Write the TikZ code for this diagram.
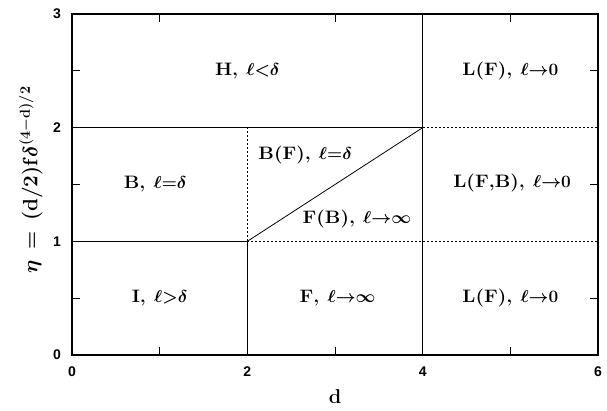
\documentclass[tikz,border=0pt]{standalone}
\usepackage{fontspec}
\newfontfamily\axisfont{Liberation Sans}
\newfontfamily\regfont{Latin Modern Roman}[FakeStretch=1.08]
\begin{document}
\begin{tikzpicture}[x=87.67pt,y=113.67pt,
  frame/.style={line width=1.1pt},
  bound/.style={line width=0.8pt},
  dotline/.style={line width=0.7pt, dash pattern=on 2pt off 2pt},
  tickmark/.style={line width=0.8pt},
  region/.style={font=\fontsize{18}{20}\selectfont\regfont\bfseries\boldmath, inner sep=0pt},
  num/.style={font=\axisfont\bfseries\fontsize{14}{16}\selectfont, inner sep=0pt}]
\newcommand{\gap}{\hspace{0.45em}}
\useasboundingbox (-72pt,-56pt) rectangle (535pt,355pt);
% grid points
\foreach \i in {0,...,6}{\foreach \j in {0,1,2,3}{\coordinate (p\i\j) at (\i,\j);}}
% frame
\draw[frame] (p00) rectangle (p63);
% solid boundaries
\draw[bound] (p02) -- (p42);
\draw[bound] (p01) -- (p21);
\draw[bound] (p20) -- (p21);
\draw[bound] (p40) -- (p43);
\draw[bound] (p21) -- (p42);
% dotted boundaries
\draw[dotline] (p21) -- (p22);
\draw[dotline] (p42) -- (p62);
\draw[dotline] (p21) -- (p61);
% minor ticks
\foreach \x in {1,3,5}{
  \coordinate (tb\x) at (\x,0); \coordinate (tt\x) at (\x,3);
  \draw[tickmark] (tb\x) -- ++(0,8pt);
  \draw[tickmark] (tt\x) -- ++(0,-8pt);}
\foreach \y in {0.5,1.5,2.5}{
  \coordinate (tl) at (0,\y); \coordinate (tr) at (6,\y);
  \draw[tickmark] (tl) -- ++(8pt,0);
  \draw[tickmark] (tr) -- ++(-8pt,0);}
% tick labels
\foreach \y in {0,1,2,3}{\node[num] (ny\y) at ([xshift=-15pt]p0\y) {\y};}
\foreach \x in {0,2,4,6}{\node[num] (nx\x) at ([yshift=-17pt]p\x0) {\x};}
% axis labels
\node[font=\fontsize{22}{24}\selectfont\boldmath, rotate=90] (ylab) at (-0.47,1.54)
  {$\eta\,=\,(\mathbf{d}/\mathbf{2})\mathbf{f}\delta^{(\mathbf{4}-\mathbf{d})/\mathbf{2}}$};
\node[font=\fontsize{20}{22}\selectfont\bfseries] (xlab) at (3,-0.37) {d};
% region labels
\node[region] (H) at (2,2.5) {H,\gap$\ell{<}\delta$};
\node[region] (LF1) at (5,2.5) {L(F),\gap$\ell{\to}0$};
\node[region] (B) at (0.95,1.5) {B,\gap$\ell{=}\delta$};
\node[region] (BF) at (2.66,1.76) {B(F),\gap$\ell{=}\delta$};
\node[region] (FB) at (3.25,1.2) {F(B),\gap$\ell{\to}\infty$};
\node[region] (LFB) at (5.02,1.51) {L(F,B),\gap$\ell{\to}0$};
\node[region] (I) at (1,0.5) {I,\gap$\ell{>}\delta$};
\node[region] (F) at (3.03,0.5) {F,\gap$\ell{\to}\infty$};
\node[region] (LF0) at (5,0.5) {L(F),\gap$\ell{\to}0$};
\end{tikzpicture}
\end{document}
